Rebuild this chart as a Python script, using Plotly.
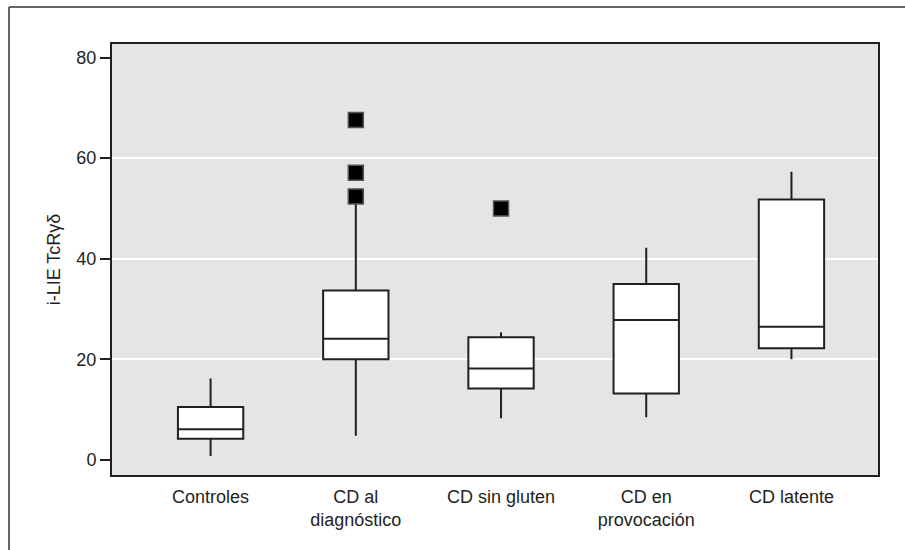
import plotly.graph_objects as go

categories = ["Controles", "CD al<br>diagnóstico", "CD sin gluten", "CD en<br>provocación", "CD latente"]
positions = [0, 1, 2, 3, 4]
q1 = [4.2, 20.0, 14.2, 13.2, 22.2]
median = [6.1, 24.1, 18.2, 27.8, 26.5]
q3 = [10.5, 33.7, 24.4, 35.0, 51.8]
lower_fence = [0.8, 4.8, 8.3, 8.5, 20.0]
upper_fence = [16.2, 51.0, 25.4, 42.2, 57.3]

outlier_x = [1, 1, 1, 2]
outlier_y = [67.6, 57.1, 52.4, 50.0]

y_ticks = [0, 20, 40, 60, 80]
grid_values = [20, 40, 60]

ink = "#231f20"
font_family = "Liberation Sans, Arial, Helvetica, sans-serif"

fig = go.Figure()
fig.add_trace(go.Box(
    x=positions,
    q1=q1, median=median, q3=q3,
    lowerfence=lower_fence, upperfence=upper_fence,
    width=0.45,
    whiskerwidth=0,
    fillcolor="white",
    line=dict(color=ink, width=2),
    boxpoints=False,
    hoverinfo="skip",
    showlegend=False,
))
fig.add_trace(go.Scatter(
    x=outlier_x, y=outlier_y, mode="markers",
    marker=dict(symbol="square", size=15, color="black", line=dict(color="#555555", width=1.5)),
    showlegend=False, hoverinfo="skip",
))

fig.update_layout(
    width=905, height=550,
    margin=dict(l=112, r=27, t=44, b=75),
    paper_bgcolor="white",
    plot_bgcolor="#e5e5e5",
    font=dict(family=font_family, size=18, color=ink),
    xaxis=dict(
        range=[-0.679, 4.596],
        tickmode="array", tickvals=positions, ticktext=categories,
        showgrid=False, zeroline=False,
        showline=True, mirror=True, linecolor=ink, linewidth=2,
        ticks="", ticklabelstandoff=4,
        tickfont=dict(size=18),
    ),
    yaxis=dict(
        range=[-3, 82.7],
        tickmode="array", tickvals=y_ticks,
        showgrid=False, zeroline=False,
        showline=True, mirror=True, linecolor=ink, linewidth=2,
        ticks="outside", ticklen=10, tickwidth=2, tickcolor=ink,
        tickfont=dict(size=18),
        title=dict(text="i-LIE TcRγδ", font=dict(size=18), standoff=11),
    ),
    yaxis2=dict(
        overlaying="y", range=[-3, 82.7],
        tickmode="array", tickvals=grid_values,
        showgrid=True, gridcolor="white", gridwidth=2,
        showticklabels=False, zeroline=False, showline=False, ticks="",
    ),
    shapes=[
        dict(type="line", xref="paper", yref="paper",
             x0=(9 - 112) / 766, y0=(475 - 7) / 431, x1=1.2, y1=(475 - 7) / 431,
             line=dict(color="#333333", width=1.5)),
        dict(type="line", xref="paper", yref="paper",
             x0=(9 - 112) / 766, y0=(475 - 7) / 431, x1=(9 - 112) / 766, y1=-0.3,
             line=dict(color="#333333", width=1.5)),
    ],
)
# empty trace so the grid-only overlay axis is drawn
fig.add_trace(go.Scatter(x=[None], y=[None], yaxis="y2", showlegend=False, hoverinfo="skip"))

fig.write_html("out.html")
